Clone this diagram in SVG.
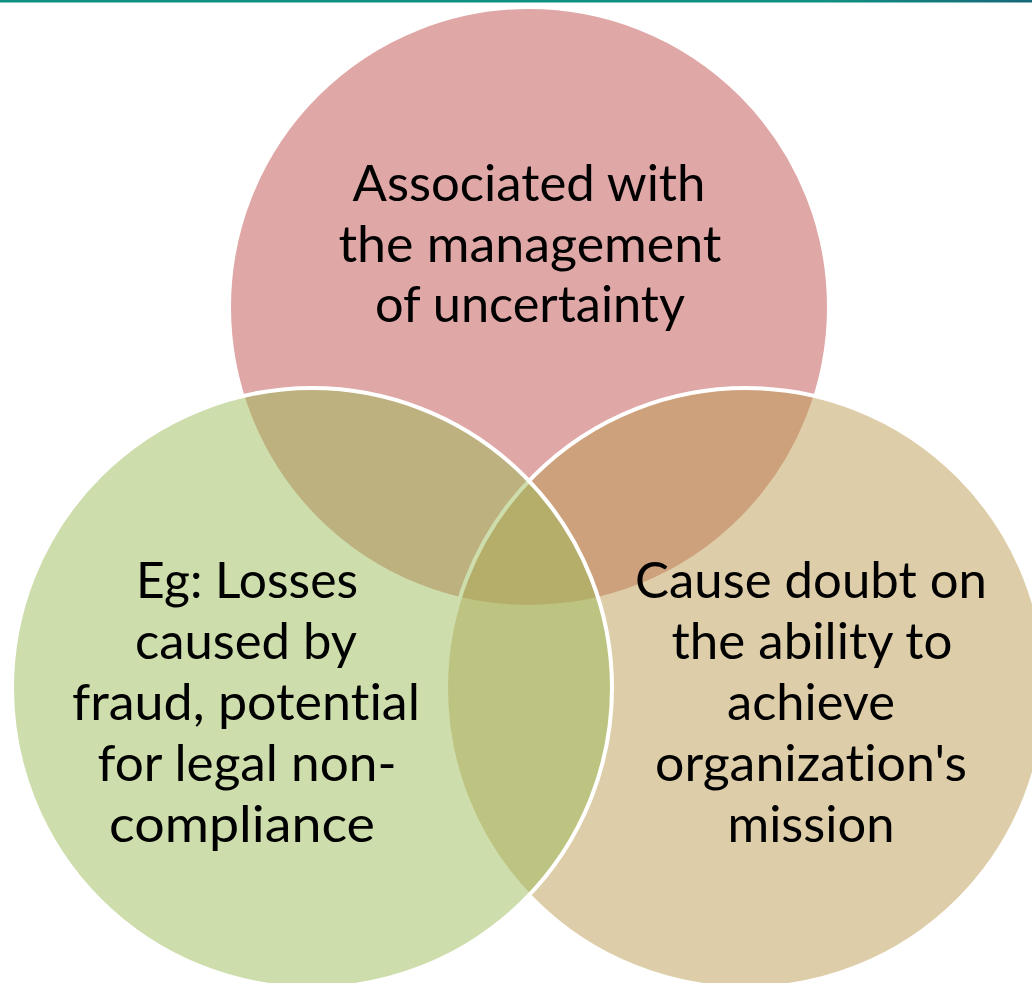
<svg xmlns="http://www.w3.org/2000/svg" width="1032" height="983" viewBox="0 0 1032 983">
  <defs>
    <linearGradient id="topbar" x1="0" y1="0" x2="1" y2="0">
      <stop offset="0" stop-color="#0E8F82"/>
      <stop offset="0.8" stop-color="#109083"/>
      <stop offset="1" stop-color="#176878"/>
    </linearGradient>
  </defs>
  <style>
    .c { stroke: #FFFFFF; stroke-width: 4; fill-opacity: 0.5; }
    .t { font-family: Lato, "Open Sans", "Liberation Sans", sans-serif; font-size: 50px; fill: #000000; text-anchor: middle; font-variant-ligatures: none; font-feature-settings: "liga" 0, "dlig" 0; }
  </style>
  <rect x="0" y="0" width="1032" height="2.5" fill="url(#topbar)"/>
  <g id="node-top">
    <circle class="c" cx="529" cy="307" r="300" fill="#C0504D"/>
    <text class="t" x="529" y="201" textLength="353" lengthAdjust="spacingAndGlyphs">Associated with</text>
    <text class="t" x="530" y="262" textLength="383" lengthAdjust="spacingAndGlyphs">the management</text>
    <text class="t" x="530" y="322" textLength="310" lengthAdjust="spacingAndGlyphs">of uncertainty</text>
  </g>
  <g id="node-right">
    <circle class="c" cx="746" cy="688" r="300" fill="#BD9B53"/>
    <text class="t" x="811" y="598" textLength="352" lengthAdjust="spacingAndGlyphs">Cause doubt on</text>
    <text class="t" x="812" y="659" textLength="281" lengthAdjust="spacingAndGlyphs">the ability to</text>
    <text class="t" x="811" y="720" textLength="168" lengthAdjust="spacingAndGlyphs">achieve</text>
    <text class="t" x="811" y="781" textLength="312" lengthAdjust="spacingAndGlyphs">organization's</text>
    <text class="t" x="811" y="842" textLength="167" lengthAdjust="spacingAndGlyphs">mission</text>
  </g>
  <g id="node-left">
    <circle class="c" cx="312" cy="688" r="300" fill="#9BBB59"/>
    <text class="t" x="247" y="598" textLength="222" lengthAdjust="spacingAndGlyphs">Eg: Losses</text>
    <text class="t" x="246" y="659" textLength="222" lengthAdjust="spacingAndGlyphs">caused by</text>
    <text class="t" x="246" y="720" textLength="348" lengthAdjust="spacingAndGlyphs">fraud, potential</text>
    <text class="t" x="247" y="781" textLength="299" lengthAdjust="spacingAndGlyphs">for legal non-</text>
    <text class="t" x="242" y="842" textLength="266" lengthAdjust="spacingAndGlyphs">compliance</text>
  </g>
</svg>
